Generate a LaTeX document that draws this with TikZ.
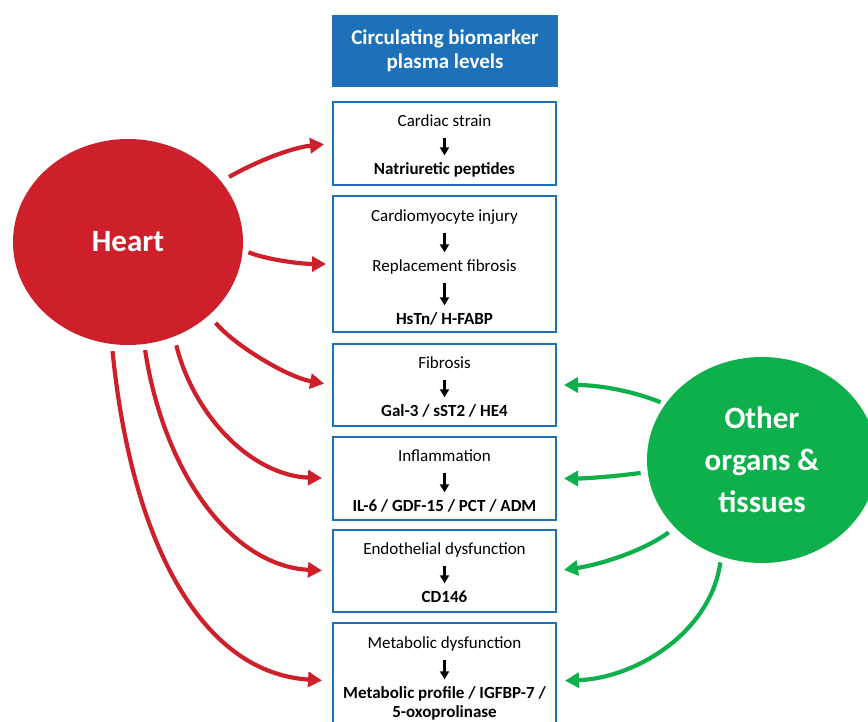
\documentclass[tikz,border=0pt]{standalone}
\usepackage{fontspec}
\setmainfont{Carlito}
\usetikzlibrary{shapes.geometric,arrows.meta}
\definecolor{hred}{RGB}{205,32,42}
\definecolor{ogreen}{RGB}{13,176,75}
\definecolor{bblue}{RGB}{30,112,185}
\begin{document}
\begin{tikzpicture}[x=1pt,y=-1pt,
  box/.style={draw=bblue,line width=2pt,minimum width=223pt,inner sep=0pt},
  ln/.style={anchor=base,inner sep=0pt,text height=12pt,text depth=4pt,font=\fontsize{17}{20}\selectfont},
  bl/.style={ln,font=\fontsize{17}{20}\selectfont\bfseries},
  sarr/.style={-{Triangle[length=8pt,width=9pt]},line width=2.2pt,shorten <=7pt,shorten >=7pt},
  rarr/.style={draw=hred,line width=4.2pt,-{Triangle[length=14pt,width=15pt]}},
  garr/.style={draw=ogreen,line width=4.2pt,-{Triangle[length=14pt,width=15pt]}},
  blob/.style={ellipse,minimum width=230pt,minimum height=206pt,inner sep=0pt,text=white,font=\fontsize{31}{42}\selectfont\bfseries,align=center}]
\path[use as bounding box] (0,0) rectangle (868,721);

% title
\node[fill=bblue,minimum width=226pt,minimum height=72pt,inner sep=0pt,text=white,
  font=\fontsize{21}{24}\selectfont\bfseries,align=center] (title) at (445,50.5) {Circulating biomarker\\plasma levels};

% boxes
\node[box,minimum height=83pt] (b1) at (444.5,143.5) {};
\node[box,minimum height=136pt] (b2) at (444.5,264) {};
\node[box,minimum height=82pt] (b3) at (444.5,385) {};
\node[box,minimum height=83pt] (b4) at (444.5,478.5) {};
\node[box,minimum height=82pt] (b5) at (444.5,571) {};
\node[box,minimum height=116pt] (b6) at (444.5,681) {};

% box texts
\node[ln] (t1a) at (444.5,126.5) {Cardiac strain};
\node[bl] (t1b) at (444.5,174.5) {Natriuretic peptides};
\draw[sarr] (t1a) -- (t1b);

\node[ln] (t2a) at (444.5,221.5) {Cardiomyocyte injury};
\node[ln] (t2b) at (444.5,271.5) {Replacement fibrosis};
\node[bl] (t2c) at (444.5,324.5) {HsTn/ H-FABP};
\draw[sarr] (t2a) -- (t2b);
\draw[sarr] (t2b) -- (t2c);

\node[ln] (t3a) at (444.5,368.5) {Fibrosis};
\node[bl] (t3b) at (444.5,416.5) {Gal-3 / sST2 / HE4};
\draw[sarr] (t3a) -- (t3b);

\node[ln] (t4a) at (444.5,461.5) {Inflammation};
\node[bl] (t4b) at (444.5,511.5) {IL-6 / GDF-15 / PCT / ADM};
\draw[sarr] (t4a) -- (t4b);

\node[ln] (t5a) at (444.5,554.5) {Endothelial dysfunction};
\node[bl] (t5b) at (444.5,602.5) {CD146};
\draw[sarr] (t5a) -- (t5b);

\node[ln] (t6a) at (444.5,648.5) {Metabolic dysfunction};
\node[bl] (t6b) at (444.5,698.5) {Metabolic profile / IGFBP-7 /};
\node[bl] (t6c) at (444.5,717.5) {5-oxoprolinase};
\draw[sarr] (t6a) -- (t6b);

% big ellipses
\node[blob,fill=hred] (heart) at (128,242) {Heart};
\node[blob,fill=ogreen] (other) at (762,460) {Other\\organs \&\\tissues};

% red arrows
\draw[rarr,shorten <=9pt,shorten >=8pt] (heart.33) .. controls +(35,-20) and +(-40,4) .. (b1.west);
\draw[rarr,shorten <=6pt,shorten >=6pt] (heart.-4) .. controls +(25,10) and +(-30,0) .. (b2.west);
\draw[rarr,shorten <=10pt,shorten >=8pt] (heart.-42) .. controls +(25,30) and +(-45,-8) .. (b3.west);
\draw[rarr,shorten <=9pt,shorten >=10pt] (heart.-64) .. controls +(20,80) and +(-80,-3) .. (b4.west);
\draw[rarr,shorten <=6pt,shorten >=10pt] (heart.-81) .. controls +(20,130) and +(-100,-5) .. (b5.west);
\draw[rarr,shorten <=7pt,shorten >=10pt] (heart.-99) .. controls +(20,200) and +(-130,-8) .. (b6.west);

% green arrows
\draw[garr,shorten <=5pt,shorten >=7pt] (other.150) .. controls +(-35,-14) and +(40,0) .. (b3.east);
\draw[garr,shorten <=7pt,shorten >=7pt] (other.186) .. controls +(-30,4) and +(30,0) .. (b4.east);
\draw[garr,shorten <=8pt,shorten >=7pt] (other.218) .. controls +(-35,25) and +(40,-6) .. (b5.east);
\draw[garr,shorten <=6pt,shorten >=8pt] (other.247) .. controls +(-10,75) and +(80,-3) .. (b6.east);
\end{tikzpicture}
\end{document}
